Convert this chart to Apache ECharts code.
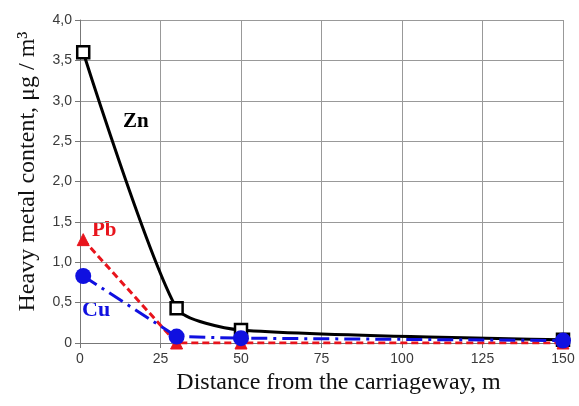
<!DOCTYPE html>
<html><head><meta charset="utf-8">
<script src="https://cdn.jsdelivr.net/npm/echarts@6/dist/echarts.min.js"></script>
<style>html,body{margin:0;padding:0;background:#fff}#c{width:579px;height:406px}</style>
</head><body><div id="c"></div>
<script>
const distances = [1, 30, 50, 150];
const zn = [3.6, 0.43, 0.16, 0.04];
const pb = [1.28, 0.0, 0.0, 0.0];
const cu = [0.83, 0.08, 0.06, 0.03];
const xTicks = [0, 25, 50, 75, 100, 125, 150];
const yTicks = ['0', '0,5', '1,0', '1,5', '2,0', '2,5', '3,0', '3,5', '4,0'];

const pairs = v => distances.map((d, i) => [d, v[i]]);
const chart = echarts.init(document.getElementById('c'));
chart.setOption({
  animation: false,
  grid: {left: 80, right: 16, top: 20, bottom: 63},
  xAxis: {
    type: 'value', min: 0, max: 150, interval: 25,
    name: 'Distance from the carriageway, m', nameLocation: 'middle', nameGap: 22,
    nameTextStyle: {fontFamily: 'Liberation Serif', fontSize: 24, color: '#111', padding: [0, 0, 0, 34]},
    axisLine: {show: true, lineStyle: {color: '#777', width: 1}},
    axisTick: {show: true, inside: false, length: 5, lineStyle: {color: '#777'}},
    axisLabel: {fontFamily: 'Liberation Sans', fontSize: 14, color: '#3a3a3a', margin: 9,
      formatter: v => xTicks.includes(v) ? String(v) : ''},
    splitLine: {show: true, lineStyle: {color: '#999', width: 1}}
  },
  yAxis: {
    type: 'value', min: 0, max: 4, interval: 0.5,
    name: 'Heavy metal content, μg / m³', nameLocation: 'middle', nameGap: 40,
    nameTextStyle: {fontFamily: 'Liberation Serif', fontSize: 24, color: '#111', padding: [0, 0, 0, 20]},
    axisLine: {show: true, lineStyle: {color: '#777', width: 1}},
    axisTick: {show: true, length: 5, lineStyle: {color: '#777'}},
    axisLabel: {fontFamily: 'Liberation Sans', fontSize: 14, color: '#3a3a3a', margin: 8,
      formatter: v => yTicks[Math.round(v / 0.5)]},
    splitLine: {show: true, lineStyle: {color: '#999', width: 1}}
  },
  series: [
    {name: 'Zn', type: 'line', data: pairs(zn), smooth: 0.22,
      lineStyle: {color: '#000', width: 3},
      symbol: 'rect', symbolSize: 12,
      itemStyle: {color: '#fff', borderColor: '#000', borderWidth: 2.5}, z: 2},
    {name: 'Pb', type: 'line', data: pairs(pb),
      lineStyle: {color: '#e8141c', width: 3, type: [7, 4]},
      symbol: 'triangle', symbolSize: 12,
      itemStyle: {color: '#e8141c', borderColor: '#e8141c'}, z: 3},
    {name: 'Cu', type: 'line', data: pairs(cu),
      lineStyle: {color: '#1010e0', width: 3, type: [16, 6, 3, 6]},
      symbol: 'circle', symbolSize: 16,
      itemStyle: {color: '#1010e0'}, z: 4}
  ],
  graphic: [
    {type: 'text', left: 123, top: 111, style: {text: 'Zn', font: 'bold 21px "Liberation Serif"', fill: '#000'}},
    {type: 'text', left: 92, top: 220, style: {text: 'Pb', font: 'bold 21px "Liberation Serif"', fill: '#e8141c'}},
    {type: 'text', left: 82, top: 299, style: {text: 'Cu', font: 'bold 22px "Liberation Serif"', fill: '#1010e0'}}
  ]
});
</script></body></html>
